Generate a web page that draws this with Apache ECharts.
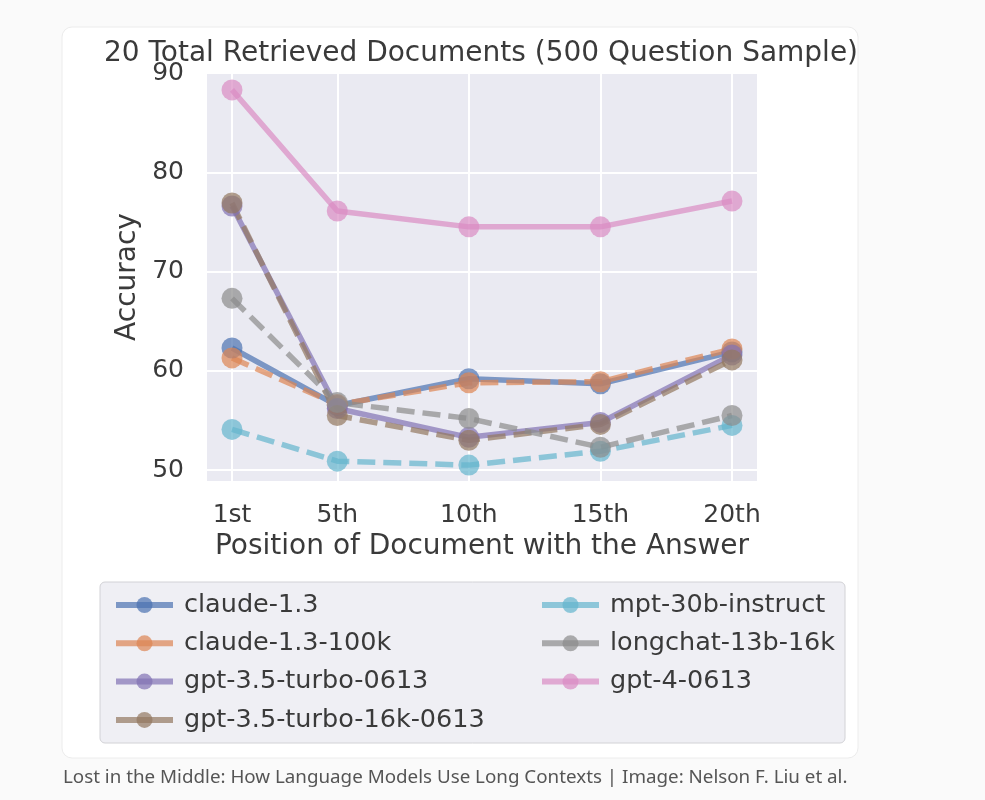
<!DOCTYPE html>
<html>
<head>
<meta charset="utf-8">
<script src="https://cdn.jsdelivr.net/npm/echarts@6/dist/echarts.min.js"></script>
<style>
  html, body { margin: 0; padding: 0; background: #fafafa; }
  #chart { width: 985px; height: 800px; }
</style>
</head>
<body>
<div id="chart"></div>
<script>
// positions of the document with the answer
const positions = [1, 5, 10, 15, 20]
const positionLabels = ['1st', '5th', '10th', '15th', '20th']
const yTicks = [50, 60, 70, 80, 90]

// accuracy per model
const claude13 = [62.3, 56.5, 59.2, 58.7, 61.9]
const claude13100k = [61.3, 56.6, 58.8, 58.9, 62.2]
const gpt35turbo = [76.6, 56.2, 53.3, 54.8, 61.6]
const gpt35turbo16k = [76.9, 55.5, 53.0, 54.6, 61.1]
const mpt30b = [54.1, 50.9, 50.5, 51.9, 54.5]
const longchat = [67.3, 56.8, 55.2, 52.3, 55.5]
const gpt4 = [88.3, 76.1, 74.5, 74.5, 77.1]

const models = [
  { name: 'claude-1.3', values: claude13, color: '#4C72B0', dashed: false },
  { name: 'claude-1.3-100k', values: claude13100k, color: '#DD8452', dashed: true },
  { name: 'gpt-3.5-turbo-0613', values: gpt35turbo, color: '#8172B3', dashed: false },
  { name: 'gpt-3.5-turbo-16k-0613', values: gpt35turbo16k, color: '#937860', dashed: true },
  { name: 'mpt-30b-instruct', values: mpt30b, color: '#64B5CD', dashed: true },
  { name: 'longchat-13b-16k', values: longchat, color: '#8C8C8C', dashed: true },
  { name: 'gpt-4-0613', values: gpt4, color: '#DA8BC3', dashed: false }
]

const fontFamily = 'DejaVu Sans'
const textColor = '#3a3a3a'

const series = models.map(m => ({
  name: m.name,
  type: 'line',
  data: m.values.map((v, i) => [positions[i], v]),
  symbol: 'circle',
  symbolSize: 21,
  color: m.color,
  lineStyle: {
    width: 5.5,
    opacity: 0.7,
    type: m.dashed ? [18, 8] : 'solid'
  },
  itemStyle: { opacity: 0.7 },
  emphasis: { disabled: true },
  animation: false
}))

const legendBase = {
  orient: 'vertical',
  itemWidth: 57,
  itemHeight: 20,
  itemGap: 12.3,
  lineStyle: { type: 'solid', width: 6 },
  textStyle: {
    fontFamily: fontFamily,
    fontSize: 25.5,
    color: textColor,
    padding: [0, 0, 0, 6]
  }
}

const chart = echarts.init(document.getElementById('chart'))
const option = {
  backgroundColor: '#fafafa',
  animation: false,
  title: {
    text: '20 Total Retrieved Documents (500 Question Sample)',
    left: 481,
    top: 40,
    padding: 0,
    textAlign: 'center',
    textStyle: {
      fontFamily: fontFamily,
      fontSize: 28,
      fontWeight: 'normal',
      color: textColor
    }
  },
  graphic: [
    {
      type: 'rect',
      z: -10,
      shape: { x: 62, y: 27, width: 796, height: 731, r: 10 },
      style: { fill: '#ffffff', stroke: '#ececec', lineWidth: 1 }
    },
    {
      type: 'rect',
      z: -5,
      shape: { x: 100, y: 582, width: 745, height: 161, r: 5 },
      style: { fill: '#efeff4', stroke: '#d2d2d6', lineWidth: 1 }
    },
    {
      type: 'text',
      left: 63,
      top: 768,
      style: {
        text: 'Lost in the Middle: How Language Models Use Long Contexts | Image: Nelson F. Liu et al.',
        fontFamily: 'Noto Sans',
        fontSize: 18.8,
        fill: '#555555'
      }
    }
  ],
  grid: {
    left: 207,
    right: 228,
    top: 73,
    bottom: 319,
    show: true,
    backgroundColor: '#eaeaf2',
    borderWidth: 0
  },
  legend: [
    Object.assign({}, legendBase, {
      left: 108,
      top: 587,
      data: models.slice(0, 4).map(m => m.name)
    }),
    Object.assign({}, legendBase, {
      left: 534,
      top: 587,
      data: models.slice(4).map(m => m.name)
    })
  ],
  xAxis: {
    type: 'value',
    min: 0.05,
    max: 20.95,
    name: 'Position of Document with the Answer',
    nameLocation: 'middle',
    nameGap: 52,
    nameTextStyle: { fontFamily: fontFamily, fontSize: 28, color: textColor },
    axisLine: { show: false },
    axisTick: { show: false, customValues: positions },
    axisLabel: {
      customValues: positions,
      formatter: v => positionLabels[positions.indexOf(v)],
      fontFamily: fontFamily,
      fontSize: 25,
      color: textColor,
      margin: 22
    },
    splitLine: { show: true, lineStyle: { color: '#ffffff', width: 2 } }
  },
  yAxis: {
    type: 'value',
    min: 48.9,
    max: 90,
    name: 'Accuracy',
    nameLocation: 'middle',
    nameGap: 63,
    nameTextStyle: { fontFamily: fontFamily, fontSize: 28, color: textColor },
    axisLine: { show: false },
    axisTick: { show: false, customValues: yTicks },
    axisLabel: {
      customValues: yTicks,
      fontFamily: fontFamily,
      fontSize: 25,
      color: textColor,
      margin: 23
    },
    splitLine: { show: true, lineStyle: { color: '#ffffff', width: 2 } }
  },
  series: series
}
chart.setOption(option)
</script>
</body>
</html>
